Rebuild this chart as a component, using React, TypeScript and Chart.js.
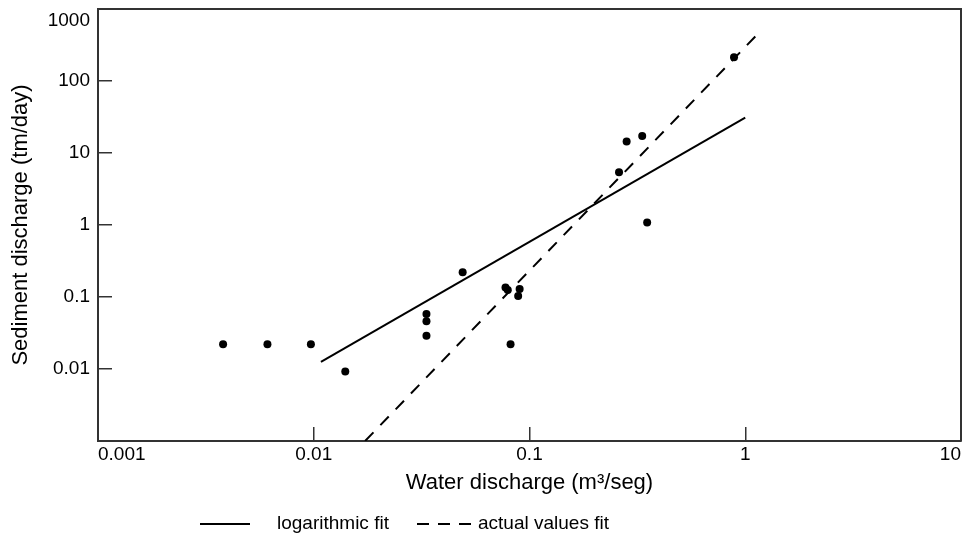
import { useEffect, useRef } from 'react';
import { Chart, registerables } from 'chart.js';

Chart.register(...registerables);

// Axis ticks
const X_TICKS = [0.001, 0.01, 0.1, 1, 10];
const X_TICK_LABELS = ['0.001', '0.01', '0.1', '1', '10'];
const Y_TICKS = [0.01, 0.1, 1, 10, 100, 1000];
const Y_TICK_LABELS = ['0.01', '0.1', '1', '10', '100', '1000'];

// Observations
const WATER = [0.0038, 0.0061, 0.0097, 0.014, 0.0333, 0.0333, 0.0333, 0.049, 0.0774, 0.0793, 0.0817, 0.0886, 0.09, 0.26, 0.282, 0.333, 0.351, 0.887];
const SEDIMENT = [0.022, 0.022, 0.022, 0.0092, 0.058, 0.046, 0.029, 0.22, 0.136, 0.125, 0.022, 0.103, 0.129, 5.4, 14.4, 17.2, 1.08, 213];

// Fit lines
const LOG_FIT_X = [0.0108, 1];
const LOG_FIT_Y = [0.0126, 30.9];
const ACTUAL_FIT_X = [0.0173, 1.17];
const ACTUAL_FIT_Y = [0.001, 484];

const SERIES_LABELS = ['logarithmic fit', 'actual values fit'];
const X_TITLE = 'Water discharge (m\u00B3/seg)';
const Y_TITLE = 'Sediment discharge (tm/day)';

const FONT = 'Liberation Sans, Arial, Helvetica, sans-serif';
const AXIS_COLOR = '#333';

// legend layout: [sample start, sample length, text start]
const LEGEND_LAYOUT = [
  [200, 50, 277],
  [417, 54, 478],
];

const framePlugin = {
  id: 'frameAndLegend',
  afterDraw(chart: any) {
    const { ctx, chartArea } = chart;
    const { left, right, top, bottom } = chartArea;
    ctx.save();
    ctx.strokeStyle = AXIS_COLOR;
    ctx.lineWidth = 2;
    ctx.beginPath();
    ctx.moveTo(left, top);
    ctx.lineTo(right, top);
    ctx.lineTo(right, bottom);
    ctx.stroke();

    // legend
    const items = chart.data.datasets.filter((d: any) => d.inLegend);
    const y = 524;
    ctx.font = `19px ${FONT}`;
    ctx.textBaseline = 'middle';
    ctx.textAlign = 'left';
    items.forEach((d: any, i: number) => {
      const [sx, len, tx] = LEGEND_LAYOUT[i];
      ctx.strokeStyle = d.borderColor;
      ctx.lineWidth = d.borderWidth;
      ctx.setLineDash(d.borderDash ? [12, 9] : []);
      ctx.beginPath();
      ctx.moveTo(sx, y);
      ctx.lineTo(sx + len, y);
      ctx.stroke();
      ctx.setLineDash([]);
      ctx.fillStyle = '#000';
      ctx.fillText(d.label, tx, y);
    });
    ctx.restore();
  },
};

export default function App() {
  const ref = useRef<HTMLCanvasElement>(null);

  useEffect(() => {
    if (!ref.current) return;
    const chart = new Chart(ref.current, {
      type: 'scatter',
      data: {
        datasets: [
          {
            type: 'line',
            label: SERIES_LABELS[0],
            inLegend: true,
            data: LOG_FIT_X.map((x, i) => ({ x, y: LOG_FIT_Y[i] })),
            borderColor: '#000',
            borderWidth: 2,
            pointRadius: 0,
            fill: false,
          } as any,
          {
            type: 'line',
            label: SERIES_LABELS[1],
            inLegend: true,
            data: ACTUAL_FIT_X.map((x, i) => ({ x, y: ACTUAL_FIT_Y[i] })),
            borderColor: '#000',
            borderWidth: 2,
            borderDash: [12, 10],
            pointRadius: 0,
            fill: false,
          } as any,
          {
            label: 'data',
            data: WATER.map((x, i) => ({ x, y: SEDIMENT[i] })),
            backgroundColor: '#000',
            borderColor: '#000',
            pointRadius: 4,
            borderWidth: 0,
          },
        ],
      },
      options: {
        animation: false,
        responsive: true,
        maintainAspectRatio: false,
        layout: { padding: { top: 9, right: 4, left: 0, bottom: 44 } },
        plugins: { legend: { display: false }, tooltip: { enabled: false } },
        scales: {
          x: {
            type: 'logarithmic',
            position: 'bottom',
            min: 0.001,
            max: 10,
            afterBuildTicks: (s: any) => {
              s.ticks = X_TICKS.map((v) => ({ value: v }));
            },
            afterFit: (s: any) => {
              s.height = 55;
              s.paddingLeft = 0;
              s.paddingRight = 0;
            },
            ticks: {
              align: 'inner',
              autoSkip: false,
              maxRotation: 0,
              padding: 16,
              color: '#000',
              font: { family: FONT, size: 19 },
              callback: (_v: any, i: number) => X_TICK_LABELS[i],
            },
            grid: {
              drawOnChartArea: false,
              drawTicks: true,
              tickLength: -14,
              color: AXIS_COLOR,
              lineWidth: 1.5,
            },
            border: { display: true, color: AXIS_COLOR, width: 2 },
            title: {
              display: true,
              text: X_TITLE,
              color: '#000',
              font: { family: FONT, size: 22 },
              padding: { top: 0, bottom: 0 },
            },
          },
          y: {
            type: 'logarithmic',
            position: 'left',
            min: 0.001,
            max: 1000,
            afterBuildTicks: (s: any) => {
              s.ticks = Y_TICKS.map((v) => ({ value: v }));
            },
            afterFit: (s: any) => {
              s.width = 98;
              s.paddingTop = 0;
              s.paddingBottom = 0;
            },
            ticks: {
              autoSkip: false,
              padding: 22,
              color: '#000',
              font: { family: FONT, size: 19 },
              callback: (_v: any, i: number) =>
                i === Y_TICKS.length - 1 ? ['', Y_TICK_LABELS[i]] : Y_TICK_LABELS[i],
            },
            grid: {
              drawOnChartArea: false,
              drawTicks: true,
              tickLength: -14,
              color: AXIS_COLOR,
              lineWidth: 1.5,
            },
            border: { display: true, color: AXIS_COLOR, width: 2 },
            title: {
              display: true,
              text: Y_TITLE,
              color: '#000',
              font: { family: FONT, size: 22 },
              padding: { top: 8, bottom: 0 },
            },
          },
        },
      } as any,
      plugins: [framePlugin],
    });
    return () => chart.destroy();
  }, []);

  return (
    <div style={{ position: 'fixed', left: 0, top: 0, width: 965, height: 540, background: '#fff' }}>
      <canvas ref={ref} />
    </div>
  );
}
